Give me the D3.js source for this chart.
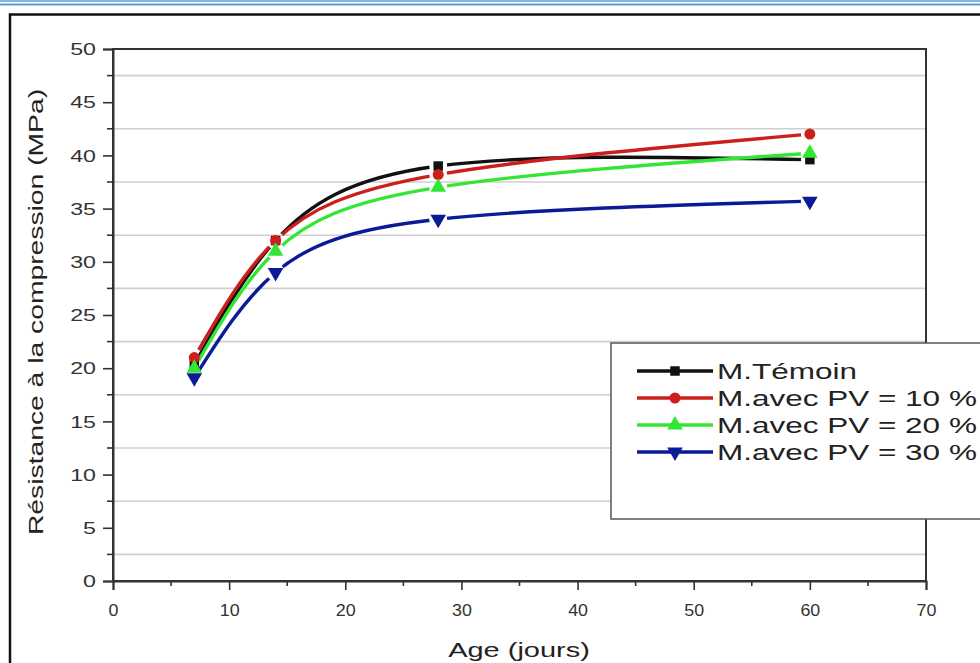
<!DOCTYPE html>
<html><head><meta charset="utf-8">
<script src="https://cdn.jsdelivr.net/npm/d3@7"></script>
<style>body{margin:0;background:#fff}svg{display:block}text{font-family:"Liberation Sans",Arial,sans-serif}</style>
</head><body><svg id="c" width="980" height="663"></svg>
<script>
const ages = [7, 14, 28, 60];
const seriesNames = ["M.Témoin", "M.avec PV = 10 %", "M.avec PV = 20 %", "M.avec PV = 30 %"];
const temoin = [20.3, 32.0, 39.0, 39.6];
const pv10 = [21.0, 32.0, 38.2, 42.0];
const pv20 = [20.0, 31.0, 37.0, 40.2];
const pv30 = [19.1, 29.0, 34.0, 35.7];
const yTicks = [0, 5, 10, 15, 20, 25, 30, 35, 40, 45, 50];
const xTicks = [0, 10, 20, 30, 40, 50, 60, 70];

const colors = ["#111111", "#cc1f1c", "#33e633", "#0b1a96"];
const symbols = [d3.symbolSquare, d3.symbolCircle, d3.symbolTriangle, d3.symbolTriangle];
const symSizes = [90, 95, 105, 105];
const symRot = [0, 0, 0, 180];
const data = [temoin, pv10, pv20, pv30];

const svg = d3.select("#c");
svg.append("rect").attr("width", 980).attr("height", 663).attr("fill", "#fff");
// page decorations
svg.append("line").attr("x1", 0).attr("x2", 980).attr("y1", 1).attr("y2", 1).attr("stroke", "#5b9bd5").attr("stroke-width", 1.6);
svg.append("line").attr("x1", 0).attr("x2", 980).attr("y1", 4.5).attr("y2", 4.5).attr("stroke", "#5b9bd5").attr("stroke-width", 1.8);
svg.append("rect").attr("x", 10).attr("y", 14.5).attr("width", 1000).attr("height", 700)
  .attr("fill", "none").attr("stroke", "#111").attr("stroke-width", 2.5);

const x = d3.scaleLinear().domain([0, 70]).range([113, 926]);
const y = d3.scaleLinear().domain([0, 50]).range([581, 49]);

// grid at minor positions
const minorY = d3.range(2.5, 50, 5);
svg.append("g").selectAll("line").data(minorY).join("line")
  .attr("x1", x(0)).attr("x2", x(70)).attr("y1", d => y(d)).attr("y2", d => y(d))
  .attr("stroke", "#cfcfcf").attr("stroke-width", 1.6);

// frame
svg.append("rect").attr("x", x(0)).attr("y", y(50)).attr("width", x(70) - x(0)).attr("height", y(0) - y(50))
  .attr("fill", "none").attr("stroke", "#333").attr("stroke-width", 2);

// Y axis
const yAx = svg.append("g").attr("transform", `translate(${x(0)},0)`)
  .call(d3.axisLeft(y).tickValues(yTicks).tickSize(10).tickFormat(d3.format("d")));
yAx.select(".domain").attr("stroke", "#333").attr("stroke-width", 2);
yAx.selectAll(".tick line").attr("stroke", "#333").attr("stroke-width", 1.6);
yAx.selectAll(".tick text").attr("font-size", 16).attr("fill", "#333")
  .attr("x", 0).attr("dx", 0).attr("dy", "0.35em").attr("text-anchor", "end")
  .attr("transform", "translate(-17,0) scale(1.45,1)");
yAx.selectAll(".minor").data(minorY).join("line").attr("class", "minor")
  .attr("x1", -6).attr("x2", 0).attr("y1", d => y(d)).attr("y2", d => y(d)).attr("stroke", "#333").attr("stroke-width", 1.6);

// X axis
const xAx = svg.append("g").attr("transform", `translate(0,${y(0)})`)
  .call(d3.axisBottom(x).tickValues(xTicks).tickSize(9).tickFormat(d3.format("d")));
xAx.select(".domain").attr("stroke", "#333").attr("stroke-width", 2);
xAx.selectAll(".tick line").attr("stroke", "#333").attr("stroke-width", 1.6);
xAx.selectAll(".tick text").attr("font-size", 17).attr("fill", "#333").attr("y", 0).attr("dy", 0)
  .attr("transform", "translate(0,35) scale(1.05,1)");
const minorX = d3.range(5, 70, 10);
xAx.selectAll(".minor").data(minorX).join("line").attr("class", "minor")
  .attr("x1", d => x(d)).attr("x2", d => x(d)).attr("y1", 0).attr("y2", 5).attr("stroke", "#333").attr("stroke-width", 1.6);

// axis titles
svg.append("text").attr("transform", `translate(519,657) scale(1.38,1)`).attr("text-anchor", "middle")
  .attr("font-size", 21).attr("fill", "#222").text("Age (jours)");
svg.append("text").attr("transform", `translate(43,312) rotate(-90) scale(1.38,1)`).attr("text-anchor", "middle")
  .attr("font-size", 20.5).attr("fill", "#222").text("Résistance à la compression (MPa)");

// series
const defs = svg.append("defs");
const line = d3.line().x((d, i) => x(ages[i])).y(d => y(d)).curve(d3.curveNatural);
data.forEach((vals, si) => {
  const m = defs.append("mask").attr("id", "m" + si).attr("maskUnits", "userSpaceOnUse")
    .attr("x", 0).attr("y", 0).attr("width", 980).attr("height", 663);
  m.append("rect").attr("width", 980).attr("height", 663).attr("fill", "#fff");
  m.selectAll("circle").data(vals).join("circle").attr("cx", (d, i) => x(ages[i])).attr("cy", d => y(d)).attr("r", 9).attr("fill", "#000");
  svg.append("path").attr("d", line(vals)).attr("fill", "none").attr("stroke", colors[si])
    .attr("stroke-width", 3.4).attr("mask", `url(#m${si})`);
});
data.forEach((vals, si) => {
  svg.append("g").selectAll("path").data(vals).join("path")
    .attr("d", d3.symbol().type(symbols[si]).size(symSizes[si]))
    .attr("transform", (d, i) => `translate(${x(ages[i])},${y(d)}) rotate(${symRot[si]})`)
    .attr("fill", colors[si]);
});

// legend
const lg = svg.append("g");
lg.append("rect").attr("x", 611).attr("y", 343).attr("width", 420).attr("height", 176)
  .attr("fill", "#fff").attr("stroke", "#555").attr("stroke-width", 1.5);
seriesNames.forEach((name, si) => {
  const cy = 371 + si * 27;
  lg.append("line").attr("x1", 637).attr("x2", 713).attr("y1", cy).attr("y2", cy).attr("stroke", colors[si]).attr("stroke-width", 3.4);
  lg.append("path").attr("d", d3.symbol().type(symbols[si]).size(symSizes[si]))
    .attr("transform", `translate(675,${cy}) rotate(${symRot[si]})`).attr("fill", colors[si]);
  lg.append("text").attr("transform", `translate(717,${cy + 8}) scale(1.4,1)`).attr("font-size", 22.5).attr("fill", "#222").text(name);
});
</script></body></html>
